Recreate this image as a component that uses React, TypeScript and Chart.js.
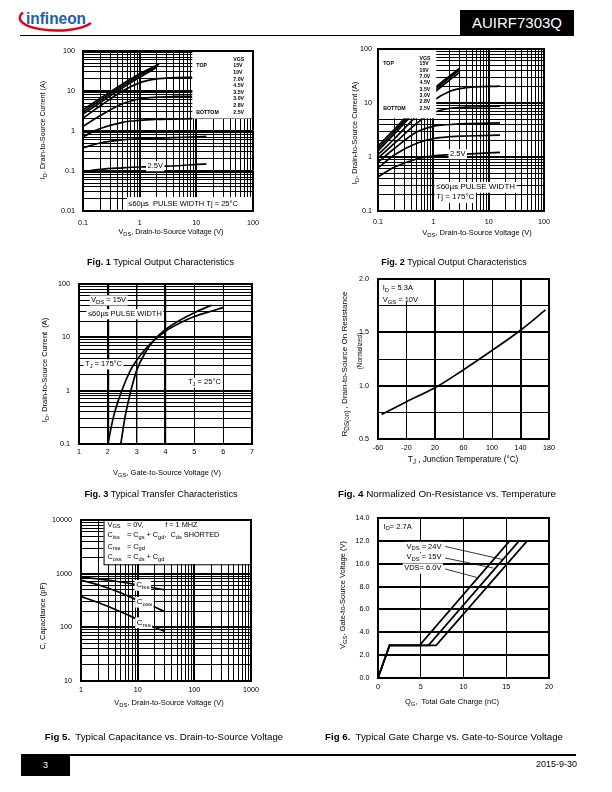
import React, { useEffect, useRef } from 'react';
import { Chart, registerables } from 'chart.js';
Chart.register(...registerables);

const FONT = "'Liberation Sans', Arial, Helvetica, sans-serif";
const W = 612, H = 792;
type Pt = [number, number];

// ---------- Fig 1 : output characteristics, Tj = 25°C ----------
const fig1Legend = ['15V', '10V', '7.0V', '4.5V', '3.5V', '3.0V', '2.8V', '2.5V'];
const fig1XTicks = [0.1, 1, 10, 100];
const fig1XLabels = ['0.1', '1', '10', '100'];
const fig1YTicks = [0.01, 0.1, 1, 10, 100];
const fig1YLabels = ['0.01', '0.1', '1', '10', '100'];
const f1_15V: Pt[] = [[0.1, 3.4], [0.2, 6.5], [0.5, 15], [1, 27], [2.2, 47]];
const f1_10V: Pt[] = [[0.1, 3.0], [0.2, 5.8], [0.5, 13.5], [1, 24.5], [2.1, 43]];
const f1_7V: Pt[] = [[0.1, 2.65], [0.2, 5.1], [0.5, 12], [1, 22], [2.0, 39]];
const f1_4V5: Pt[] = [[0.1, 2.1], [0.2, 4.2], [0.5, 10], [1, 16], [2, 20], [4, 21.5], [8.5, 22]];
const f1_3V5: Pt[] = [[0.1, 1.3], [0.2, 2.4], [0.5, 4.8], [1, 6.3], [2, 7.0], [4, 7.3], [8.5, 7.4]];
const f1_3V0: Pt[] = [[0.1, 0.72], [0.2, 1.15], [0.5, 1.65], [1, 1.85], [2, 1.95], [8.5, 2.05]];
const f1_2V8: Pt[] = [[0.1, 0.38], [0.2, 0.5], [0.5, 0.6], [1, 0.64], [3, 0.67], [15, 0.73]];
const f1_2V5: Pt[] = [[0.1, 0.095], [0.2, 0.11], [0.5, 0.12], [1, 0.126], [3, 0.132], [15, 0.15]];

// ---------- Fig 2 : output characteristics, Tj = 175°C ----------
const fig2Legend = ['15V', '10V', '7.0V', '4.5V', '3.5V', '3.0V', '2.8V', '2.5V'];
const fig2XTicks = [0.1, 1, 10, 100];
const fig2XLabels = ['0.1', '1', '10', '100'];
const fig2YTicks = [0.1, 1, 10, 100];
const fig2YLabels = ['0.1', '1', '10', '100'];
const f2_15V: Pt[] = [[0.1, 1.6], [0.2, 3.3], [0.5, 9], [1, 18], [2, 32], [3, 44]];
const f2_10V: Pt[] = [[0.1, 1.45], [0.2, 3.0], [0.5, 8.2], [1, 16.5], [2, 30], [3, 41]];
const f2_7V: Pt[] = [[0.1, 1.3], [0.2, 2.7], [0.5, 7.4], [1, 15], [2, 27], [3, 37]];
const f2_4V5: Pt[] = [[0.1, 1.1], [0.2, 2.2], [0.5, 5.8], [1, 11], [2, 16.5], [4, 19.3], [16, 20.5]];
const f2_3V5: Pt[] = [[0.1, 0.95], [0.2, 1.8], [0.5, 4.2], [1, 6.6], [2, 8.0], [4, 8.4], [16, 8.7]];
const f2_3V0: Pt[] = [[0.1, 0.8], [0.2, 1.45], [0.5, 2.9], [1, 3.7], [2, 4.0], [4, 4.15], [16, 4.3]];
const f2_2V8: Pt[] = [[0.1, 0.63], [0.2, 1.1], [0.5, 1.8], [1, 2.2], [2, 2.38], [4, 2.45], [16, 2.55]];
const f2_2V5: Pt[] = [[0.1, 0.43], [0.2, 0.65], [0.5, 0.92], [1, 1.05], [2, 1.1], [4, 1.13], [16, 1.22]];

// ---------- Fig 3 : transfer characteristics ----------
const fig3XTicks = [1, 2, 3, 4, 5, 6, 7];
const fig3XLabels = ['1', '2', '3', '4', '5', '6', '7'];
const fig3YTicks = [0.1, 1, 10, 100];
const fig3YLabels = ['0.1', '1', '10', '100'];
const f3_25C: Pt[] = [[2.45, 0.1], [2.6, 0.33], [2.8, 1.0], [3.0, 2.4], [3.3, 5.2], [3.6, 8.8], [4.0, 14], [4.5, 21], [5.0, 29], [5.6, 40]];
const f3_175C: Pt[] = [[2.0, 0.1], [2.2, 0.33], [2.5, 1.05], [2.8, 2.5], [3.0, 3.7], [3.3, 6.0], [3.6, 8.8], [4.0, 13], [4.5, 18.5], [5.0, 24.5], [5.5, 30], [6.0, 36]];

// ---------- Fig 4 : normalized on-resistance ----------
const fig4XTicks = [-60, -20, 20, 60, 100, 140, 180];
const fig4XLabels = ['-60', '-20', '20', '60', '100', '140', '180'];
const fig4YTicks = [0.5, 1.0, 1.5, 2.0];
const fig4YLabels = ['0.5', '1.0', '1.5', '2.0'];
const fig4YGrid = [0.5, 0.75, 1.0, 1.25, 1.5, 1.75, 2.0];
const f4_rds: Pt[] = [[-55, 0.73], [-20, 0.85], [25, 1.0], [60, 1.15], [100, 1.33], [140, 1.52], [175, 1.71]];

// ---------- Fig 5 : capacitance ----------
const fig5XTicks = [1, 10, 100, 1000];
const fig5XLabels = ['1', '10', '100', '1000'];
const fig5YTicks = [10, 100, 1000, 10000];
const fig5YLabels = ['10', '100', '1000', '10000'];
const f5_ciss: Pt[] = [[1, 870], [2, 800], [5, 700], [10, 620], [20, 540], [30, 500]];
const f5_coss: Pt[] = [[1, 760], [2, 620], [5, 440], [10, 320], [20, 240], [30, 195]];
const f5_crss: Pt[] = [[1, 375], [2, 290], [5, 195], [10, 140], [20, 100], [30, 84]];

// ---------- Fig 6 : gate charge ----------
const fig6XTicks = [0, 5, 10, 15, 20];
const fig6XLabels = ['0', '5', '10', '15', '20'];
const fig6YTicks = [0, 2, 4, 6, 8, 10, 12, 14];
const fig6YLabels = ['0.0', '2.0', '4.0', '6.0', '8.0', '10.0', '12.0', '14.0'];
const f6_6V: Pt[] = [[0, 0], [1.35, 2.85], [4.86, 2.85], [15.4, 12]];
const f6_15V: Pt[] = [[0, 0], [1.35, 2.85], [5.9, 2.85], [16.5, 12]];
const f6_24V: Pt[] = [[0, 0], [1.35, 2.85], [6.8, 2.85], [17.45, 12]];

// ---------- helpers ----------
function logGrid(min: number, max: number): number[] {
  const out: number[] = [];
  const a = Math.round(Math.log10(min)), b = Math.round(Math.log10(max));
  for (let d = a; d < b; d++) for (let k = 1; k <= 9; k++) out.push(+(k * Math.pow(10, d)).toPrecision(6));
  out.push(max);
  return out;
}
const isDecade = (v: number) => Math.abs(Math.log10(v) - Math.round(Math.log10(v))) < 1e-6;
const decadeLw = (v: number) => (isDecade(v) ? 2 : 1);

function parseRich(s: string): [string, boolean][] {
  const out: [string, boolean][] = [];
  const re = /_\{([^}]*)\}/g;
  let last = 0; let m: any;
  while ((m = re.exec(s))) {
    if (m.index > last) out.push([s.slice(last, m.index), false]);
    out.push([m[1], true]);
    last = re.lastIndex;
  }
  if (last < s.length) out.push([s.slice(last), false]);
  return out;
}

function drawText(ctx: CanvasRenderingContext2D, s: string, x: number, y: number, size: number, o: any = {}) {
  const parts = parseRich(s);
  const font = (sz: number) => `${o.bold ? 'bold ' : ''}${sz}px ${FONT}`;
  let w = 0;
  const ws = parts.map(([t, sub]) => { ctx.font = font(sub ? size * 0.78 : size); const m = ctx.measureText(t).width; w += m; return m; });
  ctx.save();
  ctx.translate(x, y);
  if (o.rot) ctx.rotate(-Math.PI / 2);
  let sx = o.align === 'center' ? -w / 2 : o.align === 'right' ? -w : 0;
  if (o.bg) { ctx.fillStyle = '#fff'; ctx.fillRect(sx - 1.5, -size * 0.62, w + 3, size * 1.35); }
  ctx.fillStyle = o.color || '#000';
  ctx.textBaseline = 'middle';
  ctx.textAlign = 'left';
  parts.forEach(([t, sub], i) => { ctx.font = font(sub ? size * 0.78 : size); ctx.fillText(t, sx, sub ? size * 0.32 : 0); sx += ws[i]; });
  ctx.restore();
}

interface Axis { type: string; min: number; max: number; grid: number[]; lw: (v: number) => number; ticks: number[]; labels: string[]; off: number; }
interface Hp { ctx: CanvasRenderingContext2D; px: (v: number) => number; py: (v: number) => number; a: any; }
interface Fig { rect: [number, number, number, number]; x: Axis; y: Axis; series: Pt[][]; straight?: boolean; titleSize?: number; xTitle: [string, number, number]; yTitles: [string, number, number, number?][]; under?: (h: Hp) => void; over?: (h: Hp) => void; }

const TICK = 7.2, TITLE = 7.5;

function axisOpts(a: Axis, vertical: boolean) {
  return {
    type: a.type, min: a.min, max: a.max, position: vertical ? 'left' : 'bottom',
    grid: { color: '#000', lineWidth: (c: any) => a.lw(c.tick ? c.tick.value : a.min), drawTicks: false },
    border: { display: false },
    ticks: { display: false, autoSkip: false },
    afterBuildTicks: (s: any) => { s.ticks = a.grid.map((v) => ({ value: v })); },
    afterFit: (s: any) => { if (vertical) s.width = 0; else s.height = 0; },
  };
}

function build(canvas: HTMLCanvasElement, f: Fig) {
  const [l, t, r, b] = f.rect;
  const hp = (chart: any): Hp => ({
    ctx: chart.ctx,
    px: (v) => chart.scales.x.getPixelForValue(v),
    py: (v) => chart.scales.y.getPixelForValue(v),
    a: chart.chartArea,
  });
  const ts = f.titleSize || TITLE;
  const deco = {
    id: 'deco',
    beforeDatasetsDraw(chart: any) { if (f.under) { chart.ctx.save(); f.under(hp(chart)); chart.ctx.restore(); } },
    afterDatasetsDraw(chart: any) { if (f.over) { chart.ctx.save(); f.over(hp(chart)); chart.ctx.restore(); } },
    afterDraw(chart: any) {
      const ctx = chart.ctx, a = chart.chartArea, xs = chart.scales.x, ys = chart.scales.y;
      ctx.save();
      ctx.strokeStyle = '#000'; ctx.lineWidth = 2;
      ctx.strokeRect(a.left, a.top, a.right - a.left, a.bottom - a.top);
      f.x.ticks.forEach((v, i) => drawText(ctx, f.x.labels[i], xs.getPixelForValue(v), a.bottom + f.x.off, TICK, { align: 'center' }));
      f.y.ticks.forEach((v, i) => drawText(ctx, f.y.labels[i], a.left - f.y.off, ys.getPixelForValue(v), TICK, { align: 'right' }));
      drawText(ctx, f.xTitle[0], f.xTitle[1], f.xTitle[2], ts, { align: 'center' });
      f.yTitles.forEach((tt) => drawText(ctx, tt[0], tt[1], tt[2], tt[3] || ts, { align: 'center', rot: true }));
      ctx.restore();
    },
  };
  return new Chart(canvas, {
    type: 'line',
    data: {
      datasets: f.series.map((s) => ({
        data: s.map(([x, y]) => ({ x, y })),
        borderColor: '#000', borderWidth: 1.7, pointRadius: 0, fill: false,
        tension: f.straight ? 0 : 0.4,
        cubicInterpolationMode: f.straight ? 'default' : 'monotone',
      })),
    },
    options: {
      responsive: false, animation: false, devicePixelRatio: 1, events: [],
      layout: { padding: { left: l, top: t, right: W - r, bottom: H - b } },
      plugins: { legend: { display: false }, tooltip: { enabled: false }, title: { display: false } },
      scales: { x: axisOpts(f.x, false), y: axisOpts(f.y, true) },
    } as any,
    plugins: [deco],
  } as any);
}

function legendBlock(h: Hp, items: string[], bx: number, by: number, colX: number, head: number, row0: number, step: number, tx: number) {
  drawText(h.ctx, 'VGS', bx + colX, by + head, 5.2, { bold: true });
  items.forEach((s, i) => drawText(h.ctx, s, bx + colX, by + row0 + i * step, 5.2, { bold: true }));
  drawText(h.ctx, 'TOP', bx + tx, by + row0, 5.2, { bold: true });
  drawText(h.ctx, 'BOTTOM', bx + tx, by + row0 + (items.length - 1) * step, 5.2, { bold: true });
}

const fig1: Fig = {
  rect: [83, 51, 253, 211],
  x: { type: 'logarithmic', min: 0.1, max: 100, grid: logGrid(0.1, 100), lw: decadeLw, ticks: fig1XTicks, labels: fig1XLabels, off: 11.6 },
  y: { type: 'logarithmic', min: 0.01, max: 100, grid: logGrid(0.01, 100), lw: decadeLw, ticks: fig1YTicks, labels: fig1YLabels, off: 8 },
  series: [f1_15V, f1_10V, f1_7V, f1_4V5, f1_3V5, f1_3V0, f1_2V8, f1_2V5],
  titleSize: 7.2,
  xTitle: ['V_{DS}, Drain-to-Source Voltage (V)', 171, 232],
  yTitles: [['I_{D}, Drain-to-Source Current (A)', 43, 130]],
  over: (h) => {
    const { ctx, px, py, a } = h;
    const bx = px(8.5), by = py(100), by2 = py(2.05);
    ctx.fillStyle = '#fff'; ctx.fillRect(bx, by, a.right - bx, by2 - by);
    legendBlock(h, fig1Legend, bx, by, 41, 9, 15, 6.6, 4);
    const qx = px(0.6), qy = py(0.0224);
    ctx.fillStyle = '#fff'; ctx.fillRect(qx, qy, a.right - qx, a.bottom - qy);
    drawText(ctx, '\u226460µs  PULSE WIDTH Tj = 25°C', px(0.63), py(0.015), 7.5);
    drawText(ctx, '2.5V', px(1.88), py(0.135), 7.5, { align: 'center', bg: true });
  },
};

const fig2: Fig = {
  rect: [378, 49, 544, 211],
  x: { type: 'logarithmic', min: 0.1, max: 100, grid: logGrid(0.1, 100), lw: decadeLw, ticks: fig2XTicks, labels: fig2XLabels, off: 11 },
  y: { type: 'logarithmic', min: 0.1, max: 100, grid: logGrid(0.1, 100), lw: decadeLw, ticks: fig2YTicks, labels: fig2YLabels, off: 6 },
  series: [f2_15V, f2_10V, f2_7V, f2_4V5, f2_3V5, f2_3V0, f2_2V8, f2_2V5],
  xTitle: ['V_{DS}, Drain-to-Source Voltage (V)', 477, 232.5],
  yTitles: [['I_{D}, Drain-to-Source Current (A)', 355, 133]],
  over: (h) => {
    const { ctx, px, py, a } = h;
    const bx = a.left, by = a.top, bx2 = px(1.13), by2 = py(5.2);
    ctx.fillStyle = '#fff'; ctx.fillRect(bx, by, bx2 - bx, by2 - by);
    legendBlock(h, fig2Legend, bx, by, 41.6, 9.4, 15, 6.34, 5.3);
    drawText(ctx, '\u226460µs PULSE WIDTH', px(1.13), py(0.28), 8, { bg: true });
    drawText(ctx, 'Tj = 175°C', px(1.13), py(0.18), 8, { bg: true });
    drawText(ctx, '2.5V', px(2.76), py(1.15), 7.5, { align: 'center', bg: true });
  },
};

const fig3: Fig = {
  rect: [79, 284, 252, 444],
  x: { type: 'linear', min: 1, max: 7, grid: fig3XTicks, lw: (v) => (v === 2 || v === 4 ? 2.2 : v === 3 ? 1.4 : 1), ticks: fig3XTicks, labels: fig3XLabels, off: 8.4 },
  y: { type: 'logarithmic', min: 0.1, max: 100, grid: logGrid(0.1, 100), lw: decadeLw, ticks: fig3YTicks, labels: fig3YLabels, off: 9 },
  series: [f3_25C, f3_175C],
  xTitle: ['V_{GS}, Gate-to-Source Voltage (V)', 167, 473],
  yTitles: [['I_{D}, Drain-to-Source Current  (A)', 45, 370]],
  under: (h) => {
    const { ctx, px, py } = h;
    drawText(ctx, 'V_{DS} = 15V', px(1.42), py(50), 7.5, { bg: true });
    drawText(ctx, '\u226460µs PULSE WIDTH', px(1.31), py(27.6), 7.5, { bg: true });
    drawText(ctx, 'T_{J} = 175°C', px(1.21), py(3.16), 7.5, { bg: true });
    drawText(ctx, 'T_{J} = 25°C', px(4.78), py(1.43), 7.5, { bg: true });
  },
};

const fig4: Fig = {
  rect: [378, 279, 549, 439],
  x: { type: 'linear', min: -60, max: 180, grid: fig4XTicks, lw: (v) => (v === 20 || v === 140 ? 2 : 1), ticks: fig4XTicks, labels: fig4XLabels, off: 9.3 },
  y: { type: 'linear', min: 0.5, max: 2.0, grid: fig4YGrid, lw: (v) => (v === 1 || v === 1.5 ? 2 : 1), ticks: fig4YTicks, labels: fig4YLabels, off: 9 },
  series: [f4_rds],
  titleSize: 8.2,
  xTitle: ['T_{J} , Junction Temperature (°C)', 463, 460],
  yTitles: [['R_{DS(on)} , Drain-to-Source On Resistance', 345, 364, 8.1], ['(Normalized)', 360, 351, 6.4]],
  under: (h) => {
    const { ctx, px, py, a } = h;
    const x2 = px(15), y2 = py(1.785);
    ctx.fillStyle = '#fff'; ctx.fillRect(a.left, a.top, x2 - a.left, y2 - a.top);
    drawText(ctx, 'I_{D} = 5.3A', px(-53.4), py(1.913), 7.5);
    drawText(ctx, 'V_{GS} = 10V', px(-53.4), py(1.803), 7.5);
  },
};

const fig5: Fig = {
  rect: [81, 520, 251, 681],
  x: { type: 'logarithmic', min: 1, max: 1000, grid: logGrid(1, 1000), lw: decadeLw, ticks: fig5XTicks, labels: fig5XLabels, off: 9 },
  y: { type: 'logarithmic', min: 10, max: 10000, grid: logGrid(10, 10000), lw: decadeLw, ticks: fig5YTicks, labels: fig5YLabels, off: 9 },
  series: [f5_ciss, f5_coss, f5_crss],
  xTitle: ['V_{DS}, Drain-to-Source Voltage (V)', 169, 703],
  yTitles: [['C, Capacitance (pF)', 43, 616]],
  under: (h) => {
    const { ctx, px, py, a } = h;
    const bx = px(2.5), by = a.top, by2 = py(1496);
    ctx.fillStyle = '#fff'; ctx.fillRect(bx, by, a.right - bx, by2 - by);
    ctx.strokeStyle = '#000'; ctx.lineWidth = 1; ctx.strokeRect(bx + 0.5, by, a.right - bx, by2 - by + 0.5);
    const rows: [string, string, string][] = [
      ['V_{GS}', '= 0V,', 'f = 1 MHZ'],
      ['C_{iss}', '= C_{gs} + C_{gd},  C_{ds} SHORTED', ''],
      ['C_{rss}', '= C_{gd}', ''],
      ['C_{oss}', '= C_{ds} + C_{gd}', ''],
    ];
    const ry = [4.5, 15, 26.5, 37];
    rows.forEach((r, i) => {
      drawText(ctx, r[0], bx + 4, by + ry[i], 7.3);
      drawText(ctx, r[1], bx + 23.4, by + ry[i], 7.3);
      if (r[2]) drawText(ctx, r[2], bx + 61.7, by + ry[i], 7.3);
    });
  },
  over: (h) => {
    const { ctx, px, py } = h;
    drawText(ctx, 'C_{iss}', px(9.4), py(617), 8, { bg: true });
    drawText(ctx, 'C_{oss}', px(9.6), py(300), 8, { bg: true });
    drawText(ctx, 'C_{rss}', px(9.6), py(124), 8, { bg: true });
  },
};

const fig6: Fig = {
  rect: [378, 518, 549, 678],
  x: { type: 'linear', min: 0, max: 20, grid: fig6XTicks, lw: () => 1, ticks: fig6XTicks, labels: fig6XLabels, off: 9.4 },
  y: { type: 'linear', min: 0, max: 14, grid: fig6YTicks, lw: () => 2, ticks: fig6YTicks, labels: fig6YLabels, off: 8.4 },
  series: [f6_6V, f6_15V, f6_24V],
  straight: true,
  xTitle: ['Q_{G},  Total Gate Charge (nC)', 452, 701.5],
  yTitles: [['V_{GS}, Gate-to-Source Voltage (V)', 343, 595]],
  under: (h) => {
    drawText(h.ctx, 'I_{D}= 2.7A', h.px(0.65), h.py(13.26), 7.5);
  },
  over: (h) => {
    const { ctx, px, py } = h;
    const leaders: [number, number, number, number][] = [[7.86, 11.51, 14.66, 10.35], [7.86, 10.5, 13.5, 9.62], [7.86, 9.54, 11.56, 8.8]];
    ctx.strokeStyle = '#000'; ctx.lineWidth = 0.8;
    leaders.forEach(([x1, y1, x2, y2]) => { ctx.beginPath(); ctx.moveTo(px(x1), py(y1)); ctx.lineTo(px(x2), py(y2)); ctx.stroke(); });
    drawText(ctx, 'V_{DS} = 24V', px(7.42), py(11.51), 7.5, { align: 'right', bg: true });
    drawText(ctx, 'V_{DS} = 15V', px(7.42), py(10.55), 7.5, { align: 'right', bg: true });
    drawText(ctx, 'VDS= 6.0V', px(7.42), py(9.62), 7.5, { align: 'right', bg: true });
  },
};

const FIGS = [fig1, fig2, fig3, fig4, fig5, fig6];

function FigCanvas({ fig }: { fig: Fig }) {
  const ref = useRef<HTMLCanvasElement>(null);
  useEffect(() => {
    const chart = build(ref.current as HTMLCanvasElement, fig);
    return () => chart.destroy();
  }, [fig]);
  return <canvas ref={ref} width={W} height={H} style={{ position: 'absolute', left: 0, top: 0, width: W, height: H, pointerEvents: 'none' }} />;
}

function Caption({ cx, y, bold, text, size }: { cx: number; y: number; bold: string; text: string; size: number }) {
  return (
    <div style={{ position: 'absolute', left: cx - 160, width: 320, top: y - 6, lineHeight: '12px', fontSize: size, textAlign: 'center', whiteSpace: 'pre', color: '#000' }}>
      <b>{bold}</b>{text}
    </div>
  );
}

export default function App() {
  return (
    <div style={{ position: 'absolute', left: 0, top: 0, width: W, height: H, background: '#fff', fontFamily: FONT, overflow: 'hidden' }}>
      <svg style={{ position: 'absolute', left: 0, top: 0 }} width={110} height={40}>
        <path d="M 23 12.5 A 35 12 0 0 0 91 23" fill="none" stroke="#e2001a" strokeWidth={2.4} />
        <text x={26} y={24} fontSize={17} fontWeight="bold" fill="#1b5ca8" fontFamily={FONT} textLength={60} lengthAdjust="spacingAndGlyphs">infineon</text>
      </svg>
      <div style={{ position: 'absolute', left: 20, top: 35, width: 445, height: 1.2, background: '#000' }} />
      <div style={{ position: 'absolute', left: 460, top: 10, width: 114, height: 26, background: '#000', color: '#fff', fontSize: 15, lineHeight: '26px', textAlign: 'center' }}>AUIRF7303Q</div>

      {FIGS.map((f, i) => <FigCanvas key={i} fig={f} />)}

      <Caption cx={160.5} y={262} size={9.1} bold="Fig. 1" text=" Typical Output Characteristics" />
      <Caption cx={454} y={262} size={9.0} bold="Fig. 2" text=" Typical Output Characteristics" />
      <Caption cx={161} y={494} size={9.1} bold="Fig. 3" text=" Typical Transfer Characteristics" />
      <Caption cx={447} y={494} size={9.8} bold="Fig. 4" text=" Normalized On-Resistance vs. Temperature" />
      <Caption cx={164} y={737} size={9.7} bold="Fig 5." text="  Typical Capacitance vs. Drain-to-Source Voltage" />
      <Caption cx={444} y={737} size={9.7} bold="Fig 6." text="  Typical Gate Charge vs. Gate-to-Source Voltage" />

      <div style={{ position: 'absolute', left: 21, top: 754, width: 555, height: 2, background: '#000' }} />
      <div style={{ position: 'absolute', left: 21, top: 755, width: 49, height: 21, background: '#000', color: '#fff', fontSize: 9, lineHeight: '21px', textAlign: 'center' }}>3</div>
      <div style={{ position: 'absolute', right: W - 577, top: 758, fontSize: 9, lineHeight: '12px', color: '#000' }}>2015-9-30</div>
    </div>
  );
}
